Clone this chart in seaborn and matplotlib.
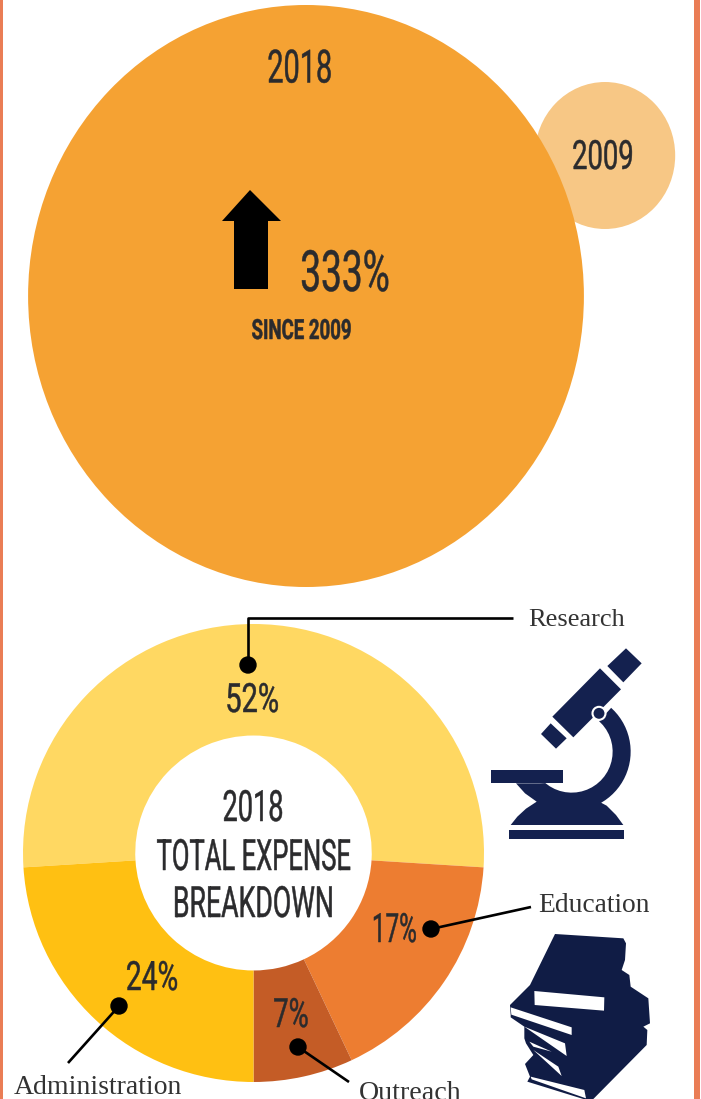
import matplotlib
matplotlib.use("Agg")
import matplotlib.pyplot as plt
import matplotlib.patheffects as pe
from matplotlib.markers import MarkerStyle
from matplotlib.patches import Circle
from matplotlib.transforms import Affine2D
import numpy as np
import seaborn as sns
import pandas as pd

# values
bubble_years = ["2009", "2018"]
bubble_areas = [1.0, 15.7]
expense_labels = ["Research", "Education", "Outreach", "Administration"]
expense_shares = [52, 17, 7, 24]

ORANGE_BAND = "#EA7D55"
NAVY = "#14214F"
BOOK_NAVY = "#101C45"
TEXT_DARK = "#2B2B2D"
bubble_colors = {"2009": "#F7C785", "2018": "#F5A233"}
slice_colors = ["#FFD862", "#ED7D31", "#C45C26", "#FFC012"]


class Squeeze(pe.AbstractPathEffect):
    """Narrows a text horizontally around its middle (no condensed font here)."""

    def __init__(self, factor, extra=0.35):
        super().__init__()
        self.factor = factor
        self.extra = extra

    def draw_path(self, renderer, gc, tpath, affine, rgbFace=None):
        box = tpath.get_extents()
        mid = (box.x0 + box.x1) / 2
        squeeze = Affine2D().translate(-mid, 0).scale(self.factor, 1).translate(mid, 0)
        # thin outline gives back the stem weight lost to the squeeze
        gc.set_linewidth(self.extra)
        gc.set_foreground(rgbFace)
        renderer.draw_path(gc, tpath, squeeze + affine, rgbFace)


def head(ax, x, y, s, size, factor=0.59, weight="normal"):
    ax.text(x, y + 2.5, s, fontsize=size, family="Roboto", weight=weight, color=TEXT_DARK,
            ha="center", va="center", path_effects=[Squeeze(factor)])


def serif(ax, x, y, s, size=19):
    ax.text(x, y, s, fontsize=size, family="Liberation Serif", color="#333333",
            ha="left", va="center")


def shape(ax, points, dx, dy, color=NAVY):
    # icon outlines are noted at 3x zoom
    xs = [dx + p[0] / 3 for p in points]
    ys = [dy + p[1] / 3 for p in points]
    ax.fill(xs, ys, color=color, linewidth=0)


def leader(ax, xs, ys):
    ax.plot(xs, ys, color="black", linewidth=1.9, solid_capstyle="butt", zorder=5)
    ax.add_patch(Circle((xs[0], ys[0]), 8, color="black", zorder=6))


def arc(cx, cy, r, a0, a1, n=24):
    t = np.radians(np.linspace(a0, a1, n))
    return list(zip(cx + r * np.cos(t), cy + r * np.sin(t)))


sns.set_theme(style="white")
fig = plt.figure(figsize=(7.01, 10.99), dpi=100)
fig.patch.set_facecolor("white")

# whole figure in pixel units, y going down
ax = fig.add_axes([0, 0, 1, 1])

bubbles = pd.DataFrame({"year": bubble_years, "area": bubble_areas,
                        "x": [605, 306], "y": [155.5, 296]})
oval = MarkerStyle("o", transform=Affine2D().scale(0.955, 1))
sns.scatterplot(data=bubbles, x="x", y="y", hue="year", palette=bubble_colors,
                size="area", sizes=(11200, 175600), size_norm=(1.0, 15.7),
                marker=oval, linewidth=0, legend=False, ax=ax, zorder=2)
ax.set_xlim(0, 701)
ax.set_ylim(1099, 0)
ax.axis("off")

ax.axvspan(0, 2.7, color=ORANGE_BAND, linewidth=0)
ax.axvspan(694, 699.5, color=ORANGE_BAND, linewidth=0)

head(ax, 300, 67, "2018", 33, factor=0.63)
head(ax, 603, 155, "2009", 29, factor=0.68)
head(ax, 345, 273, "333%", 41, factor=0.65)
head(ax, 301.5, 329, "SINCE 2009", 20, factor=0.67, weight="bold")

# up arrow
ax.fill([250, 281, 268, 268, 234, 234, 222], [190, 221, 221, 289, 289, 221, 221],
        color="black", linewidth=0, zorder=3)

# donut
ax_pie = fig.add_axes([23 / 701, 1 - 1082 / 1099, 461 / 701, 458 / 1099])
ax_pie.pie(expense_shares, colors=slice_colors, startangle=183.6, counterclock=False,
           radius=1, wedgeprops={"width": 0.487, "linewidth": 0})
ax_pie.set_xlim(-1, 1)
ax_pie.set_ylim(-1, 1)
ax_pie.set_aspect("auto")
ax_pie.patch.set_alpha(0)

# overlay for everything on top of the donut
top = fig.add_axes([0, 0, 1, 1])
top.set_xlim(0, 701)
top.set_ylim(1099, 0)
top.axis("off")

head(top, 253, 807, "2018", 31, factor=0.63)
head(top, 253.5, 856, "TOTAL EXPENSE", 31, factor=0.595)
head(top, 253, 903, "BREAKDOWN", 31, factor=0.62)
head(top, 252, 698, "52%", 29, factor=0.72)
head(top, 394, 928, "17%", 29, factor=0.6)
head(top, 152, 976, "24%", 29, factor=0.7)
head(top, 291, 1013, "7%", 29, factor=0.68)

leader(top, [248, 248, 513], [665, 618, 618])
leader(top, [431, 531], [929, 907])
leader(top, [119, 68], [1006, 1063])
leader(top, [298, 349], [1047, 1082])

serif(top, 528, 620, "Research")
serif(top, 538, 906, "Education", 19.8)
serif(top, 14, 1088, "Administration", 20)
serif(top, 359, 1093, "Outreach", 20.2)

# microscope
mx, my = 480, 640
shape(top, [(438, 25), (485, 70), (430, 127), (382, 78)], mx, my)
shape(top, [(360, 85), (423, 148), (280, 292), (217, 230)], mx, my)
shape(top, [(212, 250), (260, 295), (228, 326), (183, 282)], mx, my)
shape(top, [(33, 390), (248, 390), (248, 430), (33, 430)], mx, my)
shape(top, [(88, 570), (432, 570), (432, 596), (88, 596)], mx, my)
arm = (arc(275, 335, 177, -48, 60)
       + [(380, 497), (408, 525), (430, 555), (92, 555), (112, 530), (138, 506), (170, 485),
          (135, 460), (108, 430), (180, 430)]
       + arc(275, 335, 123, 130, -48))
shape(top, arm, mx, my)
top.add_patch(Circle((mx + 357 / 3, my + 220 / 3), 6.5, facecolor=NAVY,
                     edgecolor="white", linewidth=1.5, zorder=4))

# books
bx, by = 490, 920
shape(top, [(195, 42), (400, 55), (408, 70), (405, 120), (395, 150), (418, 165),
            (422, 200), (475, 235), (480, 310), (460, 320), (472, 330), (470, 375),
            (310, 537), (280, 537), (112, 485), (120, 470), (105, 432), (130, 405),
            (108, 370), (103, 355), (103, 320), (62, 292), (62, 285), (60, 255),
            (120, 195)], bx, by, BOOK_NAVY)
shape(top, [(133, 213), (343, 232), (342, 272), (134, 255)], bx, by, "white")
shape(top, [(62, 262), (245, 322), (245, 345), (64, 284)], bx, by, "white")
shape(top, [(103, 320), (225, 370), (230, 408)], bx, by, "white")
shape(top, [(118, 365), (185, 395), (130, 380)], bx, by, "white")
shape(top, [(130, 390), (205, 440), (215, 468)], bx, by, "white")
shape(top, [(122, 470), (283, 510), (288, 535), (125, 478)], bx, by, "white")

fig.savefig("out.png", dpi=100)
